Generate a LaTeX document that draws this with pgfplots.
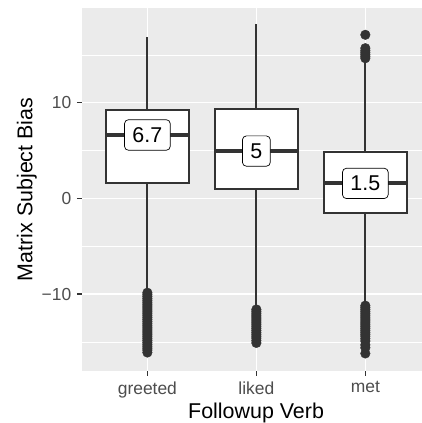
\documentclass[border=0pt]{standalone}
\usepackage{fontspec}
\setmainfont{Liberation Sans}
\usepackage{pgfplots}
\pgfplotsset{compat=1.18}
\usepgfplotslibrary{statistics}
\definecolor{panelbg}{HTML}{EBEBEB}
\definecolor{dark}{HTML}{333333}
\definecolor{ticktext}{HTML}{4D4D4D}

\begin{document}
\begin{tikzpicture}
\begin{axis}[
    at={(0,0)}, anchor=south west,
    scale only axis, width=340bp, height=362.7bp,
    xmin=0.4, xmax=3.52, ymin=-18, ymax=19.9,
    axis background/.style={fill=panelbg},
    axis line style={draw=none},
    xtick={1,2,3}, xticklabels={greeted,liked,met},
    ytick={-10,0,10}, yticklabels={−10,0,10},
    minor ytick={-15,-5,5,15},
    grid=both,
    major grid style={white, line width=1.4bp},
    minor grid style={white, line width=0.7bp},
    xtick pos=bottom, ytick pos=left,
    tick align=outside, major tick length=5bp, minor tick length=0pt,
    tick style={dark, line width=1.5bp},
    tick label style={font=\fontsize{17.5}{20}\selectfont, text=ticktext},
    yticklabel style={anchor=east, inner sep=0pt, xshift=-5.5bp},
    xticklabel style={anchor=north, inner sep=0pt, yshift=-5.5bp},
    xlabel={Followup Verb}, ylabel={Matrix Subject Bias},
    label style={font=\fontsize{21.5}{24}\selectfont},
    xlabel style={at={(axis description cs:0.512,-0.1312)}, anchor=base},
    ylabel style={at={(axis description cs:-0.1462,0.5)}, anchor=base},
    boxplot/draw direction=y,
    boxplot/whisker extend=0,
    boxplot/every median/.style={line width=4bp},
]

% whiskers
\addplot[dark, line width=1.7bp] coordinates {(1,-9.7) (1,16.85)};
\addplot[dark, line width=1.7bp] coordinates {(2,-11.4) (2,18.2)};
\addplot[dark, line width=1.7bp] coordinates {(3,-11.0) (3,14.5)};

% outliers
\addplot[only marks, mark=*, mark size=4.8bp, color=dark] coordinates {
    (1,-9.85) (1,-10.05) (1,-10.25) (1,-10.45) (1,-10.65) (1,-10.85)
    (1,-11.05) (1,-11.25) (1,-11.45) (1,-11.65) (1,-11.85) (1,-12.05)
    (1,-12.25) (1,-12.45) (1,-12.65) (1,-12.85) (1,-13.05) (1,-13.25)
    (1,-13.45) (1,-13.65) (1,-13.85) (1,-14.05) (1,-14.25) (1,-14.45)
    (1,-14.65) (1,-14.85) (1,-15.05) (1,-15.25) (1,-15.45) (1,-15.65)
    (1,-15.85) (1,-16.1)
    (2,-11.6) (2,-11.8) (2,-12.0) (2,-12.2) (2,-12.4) (2,-12.6)
    (2,-12.8) (2,-13.0) (2,-13.2) (2,-13.4) (2,-13.6) (2,-13.8)
    (2,-14.0) (2,-14.2) (2,-14.4) (2,-14.6) (2,-14.85) (2,-15.1)
    (3,14.65) (3,14.85) (3,15.05) (3,15.25) (3,15.45) (3,15.7) (3,17.1)
    (3,-11.2) (3,-11.4) (3,-11.6) (3,-11.8) (3,-12.0) (3,-12.2)
    (3,-12.4) (3,-12.6) (3,-12.8) (3,-13.0) (3,-13.2) (3,-13.4)
    (3,-13.6) (3,-13.8) (3,-14.0) (3,-14.2) (3,-14.4) (3,-14.65)
    (3,-14.9) (3,-15.3) (3,-15.6) (3,-16.2)
};

% boxes
\addplot[boxplot prepared={draw position=1, lower whisker=-9.7,
    lower quartile=1.57, median=6.63, upper quartile=9.27,
    upper whisker=16.85, box extend=0.757},
    draw=dark, fill=white, line width=1.9bp] coordinates {};
\addplot[boxplot prepared={draw position=2, lower whisker=-11.4,
    lower quartile=0.97, median=4.95, upper quartile=9.37,
    upper whisker=18.2, box extend=0.757},
    draw=dark, fill=white, line width=1.9bp] coordinates {};
\addplot[boxplot prepared={draw position=3, lower whisker=-11.0,
    lower quartile=-1.54, median=1.57, upper quartile=4.85,
    upper whisker=14.5, box extend=0.757},
    draw=dark, fill=white, line width=1.9bp] coordinates {};

% median labels
\addplot[draw=none, mark=none, nodes near coords, point meta=explicit symbolic,
    nodes near coords style={anchor=center, draw=black, line width=0.7bp,
        fill=white, rounded corners=4bp, inner xsep=8bp, inner ysep=7.7bp,
        text=black, font=\fontsize{21.5}{24}\selectfont}]
    coordinates {(1,6.63) [6.7] (2,4.95) [5] (3,1.57) [1.5]};
\end{axis}
\pgfresetboundingbox
\useasboundingbox (-82bp,-52.3bp) rectangle (340bp,370.7bp);
\end{tikzpicture}
\end{document}
